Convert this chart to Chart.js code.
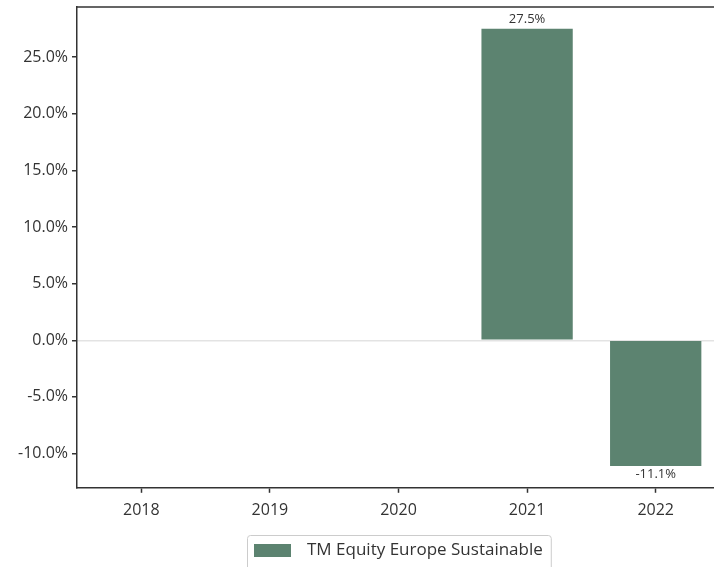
<!DOCTYPE html>
<html>
<head>
<meta charset="utf-8">
<script src="https://cdn.jsdelivr.net/npm/chart.js@4"></script>
<style>
  html, body { margin: 0; padding: 0; background: #fff; overflow: hidden; }
  #wrap { width: 720px; height: 567px; }
</style>
</head>
<body>
<div id="wrap"><canvas id="returns-chart" width="720" height="567"></canvas></div>
<script>
// yearly returns
const years = ['2018', '2019', '2020', '2021', '2022'];
const returns = [null, null, null, 27.5, -11.1];
const seriesName = 'TM Equity Europe Sustainable';
const yTicks = [-10, -5, 0, 5, 10, 15, 20, 25];

const barColor = '#5c8370';
const inkColor = '#333333';
const fontFamily = '"Open Sans", "Noto Sans", sans-serif';

function pct(v) {
    return v.toFixed(1) + '%';
}

// top/right spine, value labels and a boxed legend under the axes
const decorPlugin = {
    id: 'decor',
    afterDatasetsDraw(chart) {
        const ctx = chart.ctx;
        const area = chart.chartArea;
        ctx.save();
        ctx.strokeStyle = inkColor;
        ctx.lineWidth = 1.5;
        ctx.beginPath();
        ctx.moveTo(area.left, area.top);
        ctx.lineTo(area.right, area.top);
        ctx.lineTo(area.right, area.bottom);
        ctx.stroke();

        const meta = chart.getDatasetMeta(0);
        ctx.fillStyle = inkColor;
        ctx.font = '13px ' + fontFamily;
        ctx.textAlign = 'center';
        meta.data.forEach((bar, i) => {
            const v = returns[i];
            if (v === null) return;
            if (v >= 0) {
                ctx.textBaseline = 'bottom';
                ctx.fillText(pct(v), bar.x, bar.y - 3);
            } else {
                ctx.textBaseline = 'top';
                ctx.fillText(pct(v), bar.x, bar.y + 2);
            }
        });

        // legend
        ctx.font = '17px ' + fontFamily;
        const textW = ctx.measureText(seriesName).width;
        const boxW = 7 + 37 + 16 + textW + 8;
        const cx = (area.left + area.right) / 2;
        const bx = Math.round(cx - boxW / 2);
        const by = 535;
        ctx.strokeStyle = '#cccccc';
        ctx.lineWidth = 1;
        ctx.beginPath();
        ctx.roundRect(bx + 0.5, by + 0.5, boxW, 36, 3);
        ctx.stroke();
        ctx.fillStyle = barColor;
        ctx.fillRect(bx + 7, by + 9, 37, 13);
        ctx.fillStyle = inkColor;
        ctx.textAlign = 'left';
        ctx.textBaseline = 'middle';
        ctx.fillText(seriesName, bx + 7 + 37 + 16, by + 15);
        ctx.restore();
    }
};

const ctx = document.getElementById('returns-chart').getContext('2d');
const returnsChart = new Chart(ctx, {
    type: 'bar',
    data: {
        labels: years,
        datasets: [{
            label: seriesName,
            data: returns,
            backgroundColor: barColor,
            borderWidth: 0,
            categoryPercentage: 1,
            barPercentage: 0.71
        }]
    },
    options: {
        responsive: false,
        animation: false,
        layout: { padding: { left: 0, top: 7, right: 0, bottom: 39 } },
        plugins: {
            legend: { display: false },
            tooltip: { enabled: false }
        },
        scales: {
            x: {
                offset: true,
                grid: {
                    display: true,
                    offset: false,
                    drawOnChartArea: false,
                    tickLength: 5,
                    tickColor: inkColor,
                    tickWidth: 1.5
                },
                border: { display: true, color: inkColor, width: 1.5 },
                ticks: { color: inkColor, font: { size: 16, family: fontFamily }, padding: 8 }
            },
            y: {
                min: -13.03,
                max: 29.43,
                afterBuildTicks: axis => {
                    axis.ticks = yTicks.map(v => ({ value: v }));
                },
                afterFit: axis => {
                    axis.width = 77;
                    axis.paddingTop = 0;
                    axis.paddingBottom = 0;
                },
                grid: {
                    color: c => (c.tick && c.tick.value === 0 ? '#e3e3e3' : 'rgba(0,0,0,0)'),
                    lineWidth: 1.5,
                    tickLength: 5,
                    tickColor: inkColor,
                    tickWidth: 1.5
                },
                border: { display: true, color: inkColor, width: 1.5 },
                ticks: {
                    color: inkColor,
                    font: { size: 16, family: fontFamily },
                    padding: 4,
                    callback: v => pct(v)
                }
            }
        }
    },
    plugins: [decorPlugin]
});
</script>
</body>
</html>
